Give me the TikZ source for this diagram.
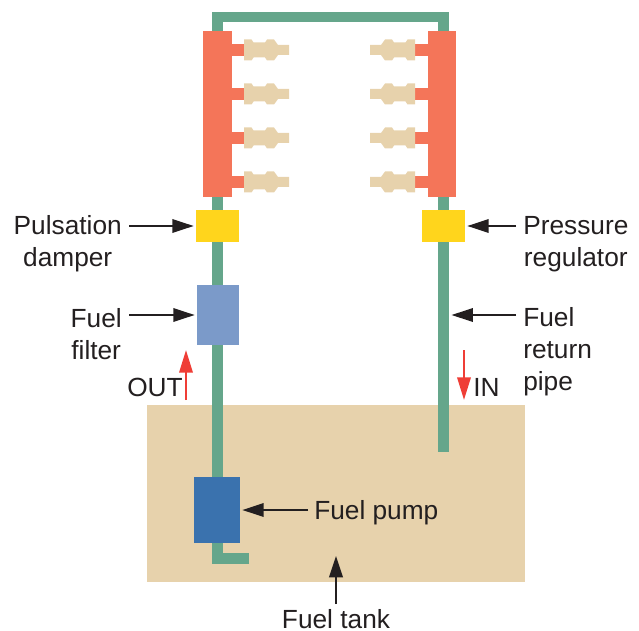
\documentclass[tikz,border=0pt]{standalone}
\usepackage{fontspec}
\setmainfont{Liberation Sans}
\usetikzlibrary{arrows.meta}
\definecolor{railc}{HTML}{F47559}
\definecolor{pipec}{HTML}{65A68B}
\definecolor{creamc}{HTML}{E7D2AC}
\definecolor{yellowc}{HTML}{FFD51C}
\definecolor{filterc}{HTML}{7B9AC9}
\definecolor{pumpc}{HTML}{3A72AE}
\definecolor{redc}{HTML}{EF3E36}
\definecolor{inkc}{HTML}{231F20}
\tikzset{
  x=0.75pt,y=-0.75pt,
  lbl/.style={font=\fontsize{19.7pt}{24pt}\selectfont,text=inkc,inner sep=0pt,align=center},
  callout/.style={draw=inkc,line width=1.8pt,-{Triangle[length=16pt,width=10pt]},shorten >=1.5pt},
  flow/.style={draw=redc,line width=1.8pt,-{Triangle[length=17pt,width=10pt]}},
  pipe/.style={draw=pipec,line width=8.2pt,line join=miter},
  stub/.style={fill=railc},
  inj/.style={fill=creamc}
}
\newcommand{\injR}[1]{%
  \fill[stub] (231,#1-6) rectangle (245,#1+6);
  \fill[inj] (244,#1-10.5) -- (251.5,#1-10.5) -- (253.5,#1-7.5) -- (265,#1-7.5) -- (267,#1-10.5) -- (274,#1-10.5) -- (278,#1-5) -- (289,#1-5) -- (289,#1+5) -- (278,#1+5) -- (274,#1+10.5) -- (267,#1+10.5) -- (265,#1+7.5) -- (253.5,#1+7.5) -- (251.5,#1+10.5) -- (244,#1+10.5) -- cycle;}
\newcommand{\injL}[1]{%
  \fill[stub] (428,#1-6) rectangle (414,#1+6);
  \fill[inj] (415,#1-10.5) -- (407.5,#1-10.5) -- (405.5,#1-7.5) -- (394,#1-7.5) -- (392,#1-10.5) -- (385,#1-10.5) -- (381,#1-5) -- (370,#1-5) -- (370,#1+5) -- (381,#1+5) -- (385,#1+10.5) -- (392,#1+10.5) -- (394,#1+7.5) -- (405.5,#1+7.5) -- (407.5,#1+10.5) -- (415,#1+10.5) -- cycle;}
\begin{document}
\begin{tikzpicture}
\useasboundingbox (0,0) rectangle (639,631);
% tank
\fill[creamc] (147,405) rectangle (525,582);
\node[inner sep=0pt] (tanktop) at (336,553) {};
% pipes
\coordinate (footend) at (249,558.5);
\coordinate (retend) at (443.5,452);
\draw[pipe] (footend) -- (217.5,558.5) -- (217.5,17) -- (443.5,17) -- (retend);
% rails
\fill[railc] (203,31) rectangle (232,197);
\fill[railc] (428,31) rectangle (456,197);
\foreach \y in {50,94,138,182}{\injR{\y}\injL{\y}}
% components
\node[fill=yellowc,minimum width=32.25pt,minimum height=24pt,inner sep=0pt] (damper) at (217.5,226) {};
\node[fill=yellowc,minimum width=32.25pt,minimum height=24pt,inner sep=0pt] (regulator) at (443.5,226) {};
\node[fill=filterc,minimum width=31.5pt,minimum height=45pt,inner sep=0pt] (filter) at (218,315) {};
\node[fill=pumpc,minimum width=34.5pt,minimum height=49.5pt,inner sep=0pt] (pump) at (217,510) {};
\coordinate (retpipe) at (449.5,315);
% labels
\node[lbl,anchor=east] (lpd) at (122,244) {Pulsation\\damper};
\node[lbl,anchor=west] (lpr) at (523,244) {Pressure\\regulator};
\node[lbl,anchor=east] (lff) at (122,334) {Fuel\\filter};
\node[lbl,anchor=west,align=left] (lrp) at (523,352) {Fuel\\return\\pipe};
\node[lbl,anchor=west] (lpump) at (314,513) {Fuel pump};
\node[lbl] (ltank) at (336,619) {Fuel tank};
\node[lbl,anchor=east] (lout) at (183,387) {OUT};
\node[lbl,anchor=west] (lin) at (473,387) {IN};
% callouts
\coordinate (a1) at (129,226); \coordinate (a2) at (516,226);
\coordinate (a3) at (129,315); \coordinate (a4) at (516,315);
\coordinate (a5) at (308,510); \coordinate (a6) at (336,604);
\draw[callout] (a1) -- (damper.west);
\draw[callout] (a2) -- (regulator.east);
\draw[callout] (a3) -- (filter.west);
\draw[callout] (a4) -- (retpipe);
\draw[callout] (a5) -- (pump.east);
\draw[callout] (a6) -- (tanktop);
% flow arrows
\coordinate (o1) at (186,400); \coordinate (o2) at (186,350);
\coordinate (i1) at (464,350); \coordinate (i2) at (464,400);
\draw[flow] (o1) -- (o2);
\draw[flow] (i1) -- (i2);
\end{tikzpicture}
\end{document}
